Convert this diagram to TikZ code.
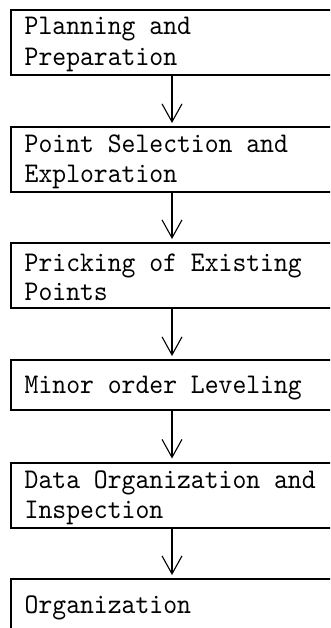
\documentclass[tikz,border=0pt]{standalone}
\usepackage{fontspec}
\newfontfamily\boxfont{lmmono10-regular.otf}[FakeStretch=0.926]
\usetikzlibrary{arrows.meta}
\begin{document}
\begin{tikzpicture}[x=1pt,y=1pt,
  stepbox/.style={draw, line width=2pt, outer sep=0pt, minimum width=322pt,
    inner sep=0pt, anchor=north},
  steptext/.style={inner sep=0pt, anchor=base west,
    font=\boxfont\fontsize{28.5}{30}\selectfont},
  arr/.style={-{Straight Barb[length=18pt,width=20pt]}, line width=1.1pt, shorten >=4pt}]
\useasboundingbox (0,0) rectangle (330,-628);
\clip (0,0) rectangle (330,-628);
\node[stepbox, minimum height=65pt] (b1) at (172,-10) {};
\node[stepbox, minimum height=65pt] (b2) at (172,-127) {};
\node[stepbox, minimum height=65pt] (b3) at (172,-243) {};
\node[stepbox, minimum height=50pt] (b4) at (172,-360) {};
\node[stepbox, minimum height=65pt] (b5) at (172,-462.5) {};
\node[stepbox, minimum height=65pt] (b6) at (172,-579) {};
\node[steptext] (t1a) at (24.5,-35) {Planning and};
\node[steptext] (t1b) at (24.5,-66) {Preparation};
\node[steptext] (t2a) at (24.5,-152.5) {Point Selection and};
\node[steptext] (t2b) at (24.5,-183) {Exploration};
\node[steptext] (t3a) at (24.5,-271) {Pricking of Existing};
\node[steptext] (t3b) at (24.5,-300.5) {Points};
\node[steptext] (t4a) at (24.5,-393.3) {Minor order Leveling};
\node[steptext] (t5a) at (24.5,-488.3) {Data Organization and};
\node[steptext] (t5b) at (24.5,-518.3) {Inspection};
\node[steptext] (t6a) at (24.5,-613) {Organization};
\draw[arr] (b1) -- (b2);
\draw[arr] (b2) -- (b3);
\draw[arr] (b3) -- (b4);
\draw[arr] (b4) -- (b5);
\draw[arr] (b5) -- (b6);
\end{tikzpicture}
\end{document}
